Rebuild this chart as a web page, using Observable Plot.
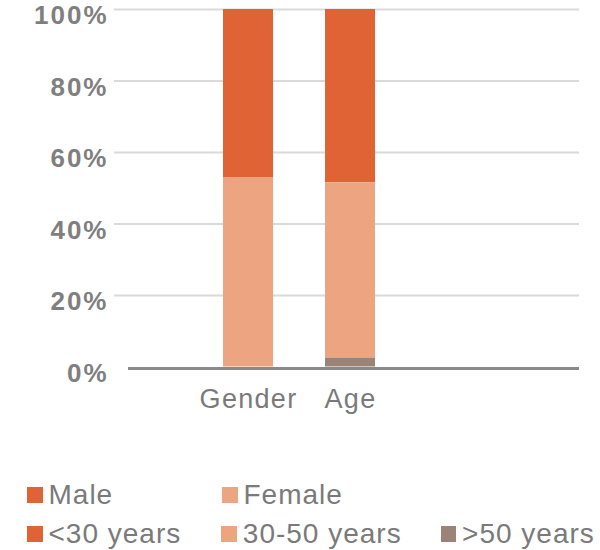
<!DOCTYPE html>
<html>
<head>
<meta charset="utf-8">
<script src="https://cdn.jsdelivr.net/npm/d3@7"></script>
<script src="https://cdn.jsdelivr.net/npm/@observablehq/plot@0.6"></script>
<style>
  body { margin: 0; background: #fff; font-family: "Liberation Sans", Arial, sans-serif; }
  #chart svg { overflow: visible; }
  #chart g[aria-label="x-axis tick label"] text { letter-spacing: 1.3px; }
  #chart g[aria-label="y-axis tick label"] text { letter-spacing: 2px; }
  .legend { position: relative; width: 600px; margin-top: 55px; color: #7a7a7a; font-size: 28px; letter-spacing: 1px; }
  .row { display: flex; height: 39px; align-items: center; padding-left: 27px; }
  .item { display: flex; align-items: center; }
  .sw { width: 15.5px; height: 16px; margin-right: 6px; flex: none; }
</style>
</head>
<body>
<div id="chart"></div>
<div class="legend" id="legend"></div>
<script>
const categories = ["Gender", "Age"];
const segments = ["Male", "Female", "<30 years", "30-50 years", ">50 years"];
const segmentColors = ["#e06336", "#eda480", "#e06336", "#eda480", "#9b8477"];
const stackOrder = ["Female", "Male", ">50 years", "30-50 years", "<30 years"];
const genderSegments = ["Male", "Female"];
const genderValues = [47, 53];
const ageSegments = ["<30 years", "30-50 years", ">50 years"];
const ageValues = [48.5, 49, 2.5];
const yTicks = [0, 20, 40, 60, 80, 100];
const legendRows = [["Male", "Female"], ["<30 years", "30-50 years", ">50 years"]];

const data = [
  ...genderSegments.map((s, i) => ({category: "Gender", segment: s, value: genderValues[i]})),
  ...ageSegments.map((s, i) => ({category: "Age", segment: s, value: ageValues[i]}))
];

const plot = Plot.plot({
  width: 600,
  height: 420,
  marginTop: 9,
  marginBottom: 53.5,
  marginLeft: 114,
  marginRight: 21,
  style: {fontFamily: "'Liberation Sans', Arial, sans-serif", background: "#fff"},
  x: {domain: categories, range: [196.6, 402], paddingInner: 0.51, paddingOuter: 0.255},
  y: {domain: [0, 100]},
  color: {domain: segments, range: segmentColors},
  marks: [
    Plot.gridY(yTicks.slice(1), {stroke: "#dadada", strokeWidth: 2, strokeOpacity: 1}),
    Plot.barY(data, {x: "category", y: "value", fill: "segment", order: stackOrder}),
    Plot.ruleY([0], {stroke: "#8a8a8a", strokeWidth: 3, insetLeft: 14, dy: 1.5}),
    Plot.axisY({ticks: yTicks, tickFormat: d => d + "%", tickSize: 0, tickPadding: 6, dy: 6.5, fontSize: 26, fontWeight: "bold", fill: "#7f7f7f", label: null}),
    Plot.axisX({tickSize: 0, tickPadding: 22, fontSize: 27, fill: "#7a7a7a", label: null})
  ]
});
document.getElementById("chart").appendChild(plot);

const colorOf = s => segmentColors[segments.indexOf(s)];
const colWidths = [195, 220, 160];
const legend = document.getElementById("legend");
legendRows.forEach(row => {
  const r = document.createElement("div");
  r.className = "row";
  row.forEach((s, i) => {
    const it = document.createElement("div");
    it.className = "item";
    it.style.width = colWidths[i] + "px";
    const sw = document.createElement("span");
    sw.className = "sw";
    sw.style.background = colorOf(s);
    const t = document.createElement("span");
    t.textContent = s;
    it.appendChild(sw);
    it.appendChild(t);
    r.appendChild(it);
  });
  legend.appendChild(r);
});
</script>
</body>
</html>
